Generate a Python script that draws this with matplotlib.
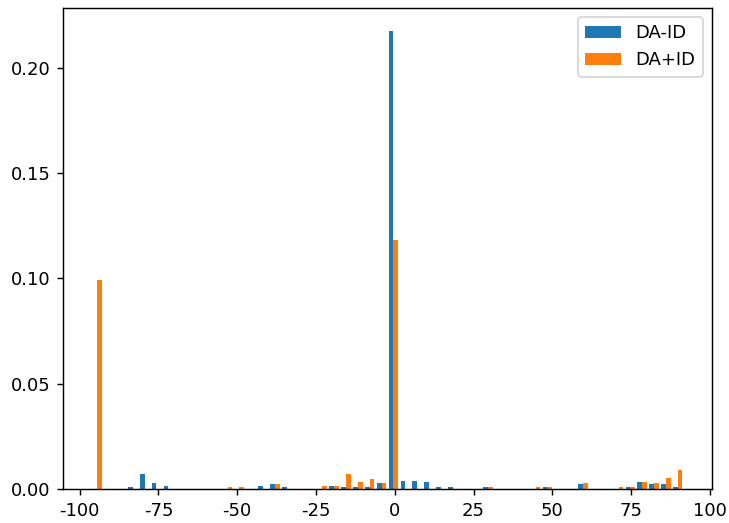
import numpy as np
import matplotlib
matplotlib.use("Agg")
import matplotlib.pyplot as plt

plt.rcParams["axes.unicode_minus"] = False

# Histogram bin layout
bin_lo, bin_hi, n_bins = -96.3, 91.7, 50

# Density per bin (index -> value), zero elsewhere
da_minus_id = {
    3: 0.0008, 4: 0.0071, 5: 0.0027, 6: 0.0014, 14: 0.0014, 15: 0.0022,
    16: 0.0009, 20: 0.0015, 21: 0.0009, 22: 0.0009, 23: 0.0009, 24: 0.0027,
    25: 0.2175, 26: 0.0039, 27: 0.0039, 28: 0.0032, 29: 0.0009, 30: 0.0009,
    33: 0.0009, 38: 0.0009, 41: 0.0022, 45: 0.0009, 46: 0.0033, 47: 0.0022,
    48: 0.0022, 49: 0.0009,
}
da_plus_id = {
    0: 0.0991, 11: 0.0008, 12: 0.0008, 15: 0.0022, 19: 0.0015, 20: 0.0015,
    21: 0.0071, 22: 0.0033, 23: 0.0046, 24: 0.0027, 25: 0.1182, 33: 0.0009,
    37: 0.0008, 38: 0.0009, 41: 0.0028, 44: 0.0009, 45: 0.0009, 46: 0.0033,
    47: 0.0028, 48: 0.0050, 49: 0.0088,
}
labels = ["DA-ID", "DA+ID"]

edges = np.linspace(bin_lo, bin_hi, n_bins + 1)
centers = 0.5 * (edges[:-1] + edges[1:])


def to_array(d):
    arr = np.zeros(n_bins)
    for k, v in d.items():
        arr[k] = v
    return arr


w1 = to_array(da_minus_id)
w2 = to_array(da_plus_id)

dpi = 130
fig = plt.figure(figsize=(729 / dpi, 523 / dpi), dpi=dpi)
ax = fig.add_axes([63 / 729, 1 - 489 / 523, (712 - 63) / 729, (489 - 8) / 523])
ax.hist([centers, centers], bins=edges, weights=[w1, w2], label=labels)
ax.legend(loc="upper right")
fig.savefig("out.png", dpi=dpi)
